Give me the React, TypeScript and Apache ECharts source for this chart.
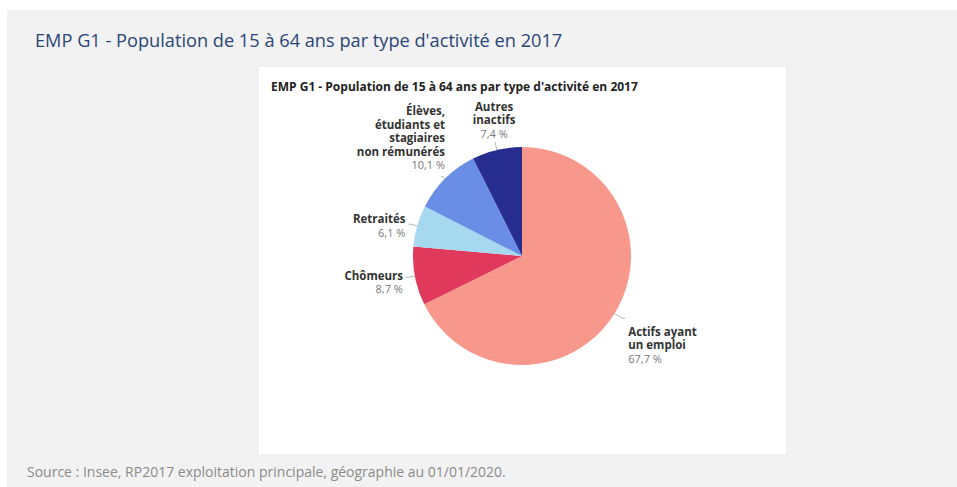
import React, { useEffect, useRef } from "react";
import * as echarts from "echarts";

const categories = [
  "Actifs ayant\nun emploi",
  "Chômeurs",
  "Retraités",
  "Élèves,\nétudiants et\nstagiaires\nnon rémunérés",
  "Autres\ninactifs",
];
const values = [67.7, 8.7, 6.1, 10.1, 7.4];
const colors = ["#f8978b", "#e0395b", "#a6d9ef", "#6a8de6", "#272d8e"];

const mainTitle = "EMP G1 - Population de 15 à 64 ans par type d'activité en 2017";
const chartTitle = "EMP G1 - Population de 15 à 64 ans par type d'activité en 2017";
const sourceText = "Source : Insee, RP2017 exploitation principale, géographie au 01/01/2020.";

const FONT = "'Open Sans', 'Noto Sans', sans-serif";

// label anchoring relative to the end of each label line
const anchors = [
  { align: "left", verticalAlign: "top", dx: 3, dy: 6 },
  { align: "right", verticalAlign: "middle", dx: -3, dy: 5 },
  { align: "right", verticalAlign: "middle", dx: -3, dy: 1 },
  { align: "right", verticalAlign: "bottom", dx: 4, dy: -5 },
  { align: "center", verticalAlign: "bottom", dx: -1, dy: -2 },
];
const lineLengths = [
  [9, 3],
  [6, 3],
  [6, 3],
  [3, 2],
  [8, 0],
];

export default function App() {
  const ref = useRef<HTMLDivElement>(null);
  useEffect(() => {
    if (!ref.current) return;
    const chart = echarts.init(ref.current, undefined, { renderer: "svg" });
    chart.setOption({
      animation: false,
      graphic: [
        {
          type: "rect",
          z: -10,
          shape: { x: 7, y: 10, width: 950, height: 477 },
          style: { fill: "#f2f2f2" },
          silent: true,
        },
        {
          type: "rect",
          z: -9,
          shape: { x: 258, y: 66, width: 529, height: 389 },
          style: { fill: "#ffffff", stroke: "#e8e8e8", lineWidth: 1 },
          silent: true,
        },
      ],
      title: [
        {
          text: mainTitle,
          left: 35,
          top: 31,
          padding: 0,
          textStyle: { fontFamily: FONT, fontSize: 18.2, fontWeight: "normal", color: "#2a4578" },
        },
        {
          text: chartTitle,
          left: 271,
          top: 80,
          padding: 0,
          textStyle: { fontFamily: FONT, fontSize: 12, fontWeight: "bold", color: "#222222" },
        },
        {
          text: sourceText,
          left: 27,
          top: 464,
          padding: 0,
          textStyle: { fontFamily: FONT, fontSize: 14, fontWeight: "normal", color: "#8a8a8a" },
        },
      ],
      series: [
        {
          type: "pie",
          center: [522, 256],
          radius: 109,
          startAngle: 90,
          clockwise: true,
          avoidLabelOverlap: false,
          data: categories.map((name, i) => ({
            name,
            value: values[i],
            itemStyle: { color: colors[i] },
            labelLine: { length: lineLengths[i][0], length2: lineLengths[i][1] },
          })),
          itemStyle: { borderWidth: 0 },
          emphasis: { disabled: true },
          label: {
            show: true,
            position: "outside",
            fontFamily: FONT,
            formatter: (p: any) =>
              `{b|${p.name}}\n{v|${p.value.toFixed(1).replace(".", ",")} %}`,
            rich: {
              b: { fontFamily: FONT, fontSize: 11.5, fontWeight: "bold", color: "#333333", lineHeight: 13.5 },
              v: { fontFamily: FONT, fontSize: 11, color: "#7a7a7a", lineHeight: 13.5 },
            },
          },
          labelLine: {
            show: true,
            lineStyle: { color: "#b0b8bc", width: 1 },
          },
          labelLayout: (p: any) => {
            const pts = p.labelLinePoints;
            if (!pts) return {};
            const end = pts[pts.length - 1];
            const a = anchors[p.dataIndex];
            return {
              x: end[0] + a.dx,
              y: end[1] + a.dy,
              align: a.align,
              verticalAlign: a.verticalAlign,
              labelLinePoints: pts,
            };
          },
        },
      ],
    });
    return () => chart.dispose();
  }, []);
  return (
    <div
      ref={ref}
      style={{ position: "fixed", left: 0, top: 0, width: 957, height: 487, background: "#ffffff" }}
    />
  );
}
